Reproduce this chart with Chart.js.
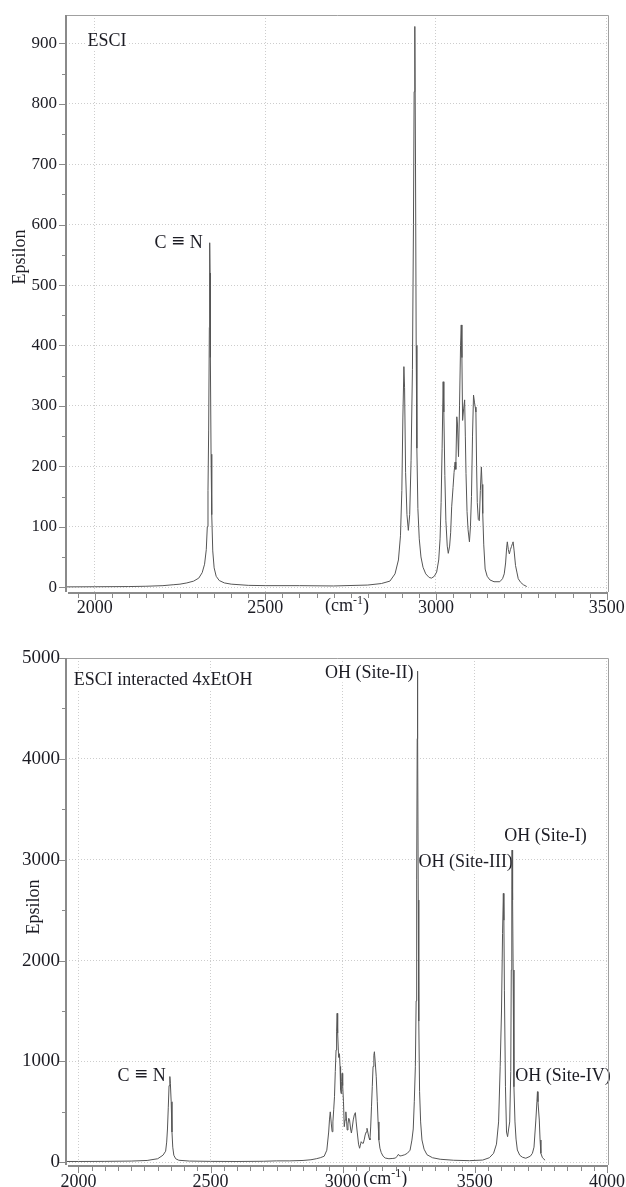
<!DOCTYPE html>
<html>
<head>
<meta charset="utf-8">
<script src="https://cdn.jsdelivr.net/npm/chart.js@4"></script>
<style>
  html, body { margin: 0; padding: 0; background: #fff; }
  canvas { display: block; }
</style>
</head>
<body>
<canvas id="esciChart" width="626" height="620"></canvas>
<canvas id="etohChart" width="626" height="567"></canvas>
<script>
// --- ESCI alone (top panel) ---
const esciWavenumber = [
  1916, 2000, 2100, 2150, 2200, 2230, 2250, 2270, 2290, 2305, 2315, 2322, 2327, 2330, 2332, 2334, 2336, 2337,
  2338, 2339, 2341, 2343, 2346, 2350, 2356, 2365, 2380, 2400, 2450, 2500, 2600, 2700, 2800, 2840, 2865, 2880,
  2890, 2896, 2900, 2903, 2906, 2908, 2911, 2915, 2919, 2923, 2927, 2931, 2934, 2936, 2938, 2940, 2942, 2944,
  2947, 2951, 2956, 2962, 2970, 2980, 2987, 2995, 3002, 3008, 3012, 3015, 3018, 3021, 3023, 3026, 3029, 3033,
  3036, 3040, 3043, 3046, 3050, 3053, 3056, 3058, 3061, 3063, 3066, 3069, 3072, 3074, 3076, 3078, 3081, 3084,
  3086, 3088, 3091, 3094, 3098, 3101, 3104, 3107, 3110, 3113, 3115, 3117, 3119, 3121, 3124, 3127, 3130, 3133,
  3135, 3137, 3140, 3144, 3150, 3158, 3170, 3187, 3195, 3200, 3204, 3207, 3209, 3212, 3215, 3218, 3221, 3224,
  3226, 3229, 3233, 3237, 3241, 3248, 3256, 3266
];
const esciEpsilon = [
  0.5, 0.7, 1, 1.5, 2.5, 4, 5, 7, 10, 15, 24, 38, 62, 100, 160, 260, 430, 570,
  520, 380, 220, 120, 60, 32, 18, 11, 7, 5, 3, 2.5, 2.5, 2, 3.5, 6, 10, 22,
  45, 85, 160, 280, 365, 330, 190, 120, 94, 120, 210, 360, 600, 820, 928, 700, 400, 230,
  130, 80, 50, 33, 22, 16, 15, 18, 25, 45, 80, 140, 230, 340, 290, 185, 110, 68,
  56, 68, 90, 133, 165, 190, 207, 195, 282, 270, 216, 300, 400, 434, 380, 276, 295, 310,
  250, 188, 125, 95, 75, 100, 150, 250, 318, 305, 298, 290, 200, 140, 112, 110, 160, 199,
  170, 122, 70, 30, 18, 12, 9, 9, 14, 22, 40, 65, 75, 62, 55, 62, 67, 72,
  75, 60, 36, 25, 14, 8, 4, 1
];
const esciTicksX = [2000, 2500, 3000, 3500];
const esciTicksY = [0, 100, 200, 300, 400, 500, 600, 700, 800, 900];
const esciNoteText = ['ESCI', 'C \u2261 N'];
const esciNoteX = [1979, 2317];
const esciNoteY = [904, 570];
const esciNoteAlign = ['left', 'right'];

// --- ESCI interacted with 4 EtOH (bottom panel) ---
const etohWavenumber = [
  1953, 2000, 2100, 2200, 2260, 2300, 2320, 2330, 2334, 2337, 2340, 2343, 2346, 2348, 2351, 2354, 2357, 2361,
  2368, 2380, 2420, 2500, 2600, 2700, 2750, 2800, 2850, 2880, 2900, 2915, 2930, 2940, 2947, 2950, 2953, 2957,
  2960, 2963, 2966, 2969, 2972, 2975, 2977, 2979, 2981, 2984, 2986, 2988, 2990, 2992, 2994, 2996, 2998, 3000,
  3003, 3006, 3009, 3012, 3015, 3017, 3020, 3023, 3026, 3030, 3033, 3036, 3040, 3044, 3048, 3051, 3055, 3060,
  3064, 3067, 3070, 3074, 3078, 3082, 3085, 3089, 3092, 3095, 3098, 3100, 3103, 3106, 3109, 3112, 3115, 3118,
  3120, 3123, 3127, 3131, 3134, 3137, 3141, 3146, 3153, 3161, 3175, 3190, 3200, 3206, 3211, 3216, 3224, 3235,
  3245, 3255, 3262, 3267, 3271, 3275, 3278, 3280, 3282, 3283, 3284, 3286, 3288, 3291, 3295, 3300, 3308, 3319,
  3340, 3369, 3420, 3480, 3530, 3555, 3571, 3582, 3590, 3596, 3601, 3605, 3608, 3610, 3612, 3616, 3620, 3624,
  3628, 3632, 3636, 3638, 3640, 3641, 3643, 3645, 3648, 3652, 3656, 3661, 3670, 3680, 3693, 3710, 3718, 3724,
  3731, 3735, 3737, 3739, 3744, 3747, 3750, 3756, 3766
];
const etohEpsilon = [
  8, 8, 9, 12, 18, 35, 70, 110, 200, 330, 540, 760, 850, 780, 600, 300, 150, 70,
  35, 20, 12, 9, 8, 10, 14, 14, 18, 25, 35, 45, 60, 120, 300, 420, 500, 380,
  303, 400, 520, 650, 900, 1113, 1300, 1477, 1280, 1080, 1040, 1070, 950, 720, 681, 800, 882, 760,
  600, 353, 420, 500, 400, 320, 380, 436, 420, 330, 290, 340, 420, 470, 492, 400, 300, 180,
  139, 170, 204, 190, 188, 230, 270, 300, 337, 300, 260, 240, 221, 350, 550, 750, 950, 1060,
  1096, 1000, 848, 600, 400, 220, 140, 95, 60, 42, 35, 38, 42, 60, 79, 62, 66, 75,
  90, 120, 220, 330, 600, 947, 1600, 2800, 4200, 4870, 4300, 2600, 1400, 700, 400, 221, 130, 75,
  45, 30, 20, 16, 22, 45, 89, 180, 400, 947, 1500, 2270, 2666, 2400, 1700, 749, 300, 254,
  330, 400, 900, 1906, 2700, 3095, 2600, 1906, 749, 400, 230, 122, 70, 50, 40, 60, 89, 150,
  419, 600, 700, 600, 419, 221, 89, 45, 20
];
const etohTicksX = [2000, 2500, 3000, 3500, 4000];
const etohTicksY = [0, 1000, 2000, 3000, 4000, 5000];
const etohNoteText = ['ESCI interacted 4xEtOH', 'OH (Site-II)', 'OH (Site-III)', 'OH (Site-I)', 'OH (Site-IV)', 'C \u2261 N'];
const etohNoteX = [1982, 3268, 3644, 3611, 3653, 2330];
const etohNoteY = [4782, 4848, 2970, 3235, 849, 856];
const etohNoteAlign = ['left', 'right', 'right', 'left', 'left', 'right'];

const SERIF = "'Liberation Serif', 'Times New Roman', serif";
const INK = '#1c1c24';
const TRIPLE = '\u2261';

// split a note so the triple-bond sign can use a font where it is drawn full size
function noteParts(ctx, t) {
  return t.split(/(\u2261)/).filter(s => s.length).map(s => {
    const font = s === TRIPLE ? "17px 'DejaVu Sans'" : `18px ${SERIF}`;
    ctx.font = font;
    return { s, font, w: ctx.measureText(s).width };
  });
}

// text notes with a white box behind them, drawn under the spectrum
const notesPlugin = {
  id: 'notes',
  beforeDatasetsDraw(chart, args, opts) {
    const { ctx, scales: { x, y } } = chart;
    ctx.save();
    ctx.textBaseline = 'middle';
    ctx.textAlign = 'left';
    opts.text.forEach((t, i) => {
      const px = x.getPixelForValue(opts.x[i]);
      const py = y.getPixelForValue(opts.y[i]);
      const parts = noteParts(ctx, t);
      const w = parts.reduce((acc, p) => acc + p.w, 0);
      let left = opts.align[i] === 'left' ? px : px - w;
      ctx.fillStyle = '#fff';
      ctx.fillRect(left - 1, py - 9, w + 2, 18);
      ctx.fillStyle = INK;
      parts.forEach(p => {
        ctx.font = p.font;
        ctx.fillText(p.s, left, p.s === TRIPLE ? py - 1 : py);
        left += p.w;
      });
    });
    ctx.restore();
  }
};

// axis lines, frame, tick marks, axis titles
const framePlugin = {
  id: 'frame',
  afterDraw(chart, args, opts) {
    const { ctx, chartArea: a, scales: { x, y } } = chart;
    ctx.save();
    ctx.strokeStyle = '#a0a0a0';
    ctx.lineWidth = 1;
    ctx.beginPath();
    ctx.moveTo(a.left, a.top + 0.5);
    ctx.lineTo(a.right + 0.5, a.top + 0.5);
    ctx.lineTo(a.right + 0.5, a.bottom);
    ctx.stroke();

    ctx.strokeStyle = '#8a8a8a';
    ctx.lineWidth = 2;
    ctx.beginPath();
    ctx.moveTo(a.left, a.top);
    ctx.lineTo(a.left, a.bottom);
    ctx.moveTo(a.left + 2, a.bottom + 1);
    ctx.lineTo(a.right, a.bottom + 1);
    ctx.stroke();

    ctx.lineWidth = 1;
    ctx.beginPath();
    for (let v = Math.ceil(y.min / opts.yMinor) * opts.yMinor; v <= y.max; v += opts.yMinor) {
      if (v < 0) continue;
      const py = Math.round(y.getPixelForValue(v)) + 0.5;
      const len = v % opts.yMajor === 0 ? 6 : 3;
      ctx.moveTo(a.left - 1 - len, py);
      ctx.lineTo(a.left - 1, py);
    }
    for (let v = Math.ceil(x.min / opts.xMinor) * opts.xMinor; v <= x.max; v += opts.xMinor) {
      const px = Math.round(x.getPixelForValue(v)) + 0.5;
      const len = v % opts.xMajor === 0 ? 6 : 4;
      ctx.moveTo(px, a.bottom + 2);
      ctx.lineTo(px, a.bottom + 2 + len);
    }
    ctx.stroke();

    // y title
    ctx.fillStyle = INK;
    ctx.font = `18px ${SERIF}`;
    ctx.textAlign = 'center';
    ctx.textBaseline = 'middle';
    ctx.save();
    ctx.translate(opts.titleX, opts.titleY);
    ctx.rotate(-Math.PI / 2);
    ctx.fillText('Epsilon', 0, 0);
    ctx.restore();

    // x unit "(cm-1)"
    const ux = x.getPixelForValue(opts.unitX);
    const uy = opts.unitY;
    ctx.textAlign = 'left';
    ctx.textBaseline = 'alphabetic';
    ctx.font = `18px ${SERIF}`;
    ctx.fillText('(cm', ux, uy);
    let w = ctx.measureText('(cm').width;
    ctx.font = `12px ${SERIF}`;
    ctx.fillText('-1', ux + w, uy - 7);
    w += ctx.measureText('-1').width;
    ctx.font = `18px ${SERIF}`;
    ctx.fillText(')', ux + w, uy);
    ctx.restore();
  }
};

function makeSpectrum(id, p) {
  const points = p.wavenumber.map((w, i) => ({ x: w, y: p.epsilon[i] }));
  return new Chart(document.getElementById(id), {
    type: 'line',
    data: {
      datasets: [{
        data: points,
        borderColor: '#555',
        borderWidth: 1,
        pointRadius: 0,
        tension: 0,
        fill: false
      }]
    },
    options: {
      responsive: false,
      animation: false,
      layout: { padding: { left: 0, right: 18, top: p.padTop, bottom: 0 } },
      plugins: {
        legend: { display: false },
        tooltip: { enabled: false },
        notes: { text: p.noteText, x: p.noteX, y: p.noteY, align: p.noteAlign },
        frame: p.frame
      },
      scales: {
        x: {
          type: 'linear',
          min: p.xMin,
          max: p.xMax,
          afterBuildTicks: s => { s.ticks = p.ticksX.map(v => ({ value: v })); },
          afterFit: s => {
            s.height = p.xAxisHeight;
            s.paddingLeft = 0;
            s.paddingRight = 0;
          },
          grid: { color: '#cdcdcd', drawTicks: false },
          border: { display: false, dash: [1, 2] },
          ticks: {
            padding: p.xPad, color: INK, maxRotation: 0, autoSkip: false,
            font: { family: SERIF, size: 18 },
            callback: v => String(v)
          }
        },
        y: {
          type: 'linear',
          min: p.yMin,
          max: p.yMax,
          afterBuildTicks: s => { s.ticks = p.ticksY.map(v => ({ value: v })); },
          afterFit: s => {
            s.width = 66;
            s.paddingTop = 0;
            s.paddingBottom = 0;
          },
          grid: { color: '#cdcdcd', drawTicks: false },
          border: { display: false, dash: [1, 2] },
          ticks: {
            padding: p.yPad, color: INK, autoSkip: false,
            font: { family: SERIF, size: p.yFont },
            callback: v => String(v)
          }
        }
      }
    },
    plugins: [notesPlugin, framePlugin]
  });
}

makeSpectrum('esciChart', {
  wavenumber: esciWavenumber, epsilon: esciEpsilon,
  ticksX: esciTicksX, ticksY: esciTicksY,
  noteText: esciNoteText, noteX: esciNoteX, noteY: esciNoteY, noteAlign: esciNoteAlign,
  xMin: 1916, xMax: 3504, yMin: -8, yMax: 947,
  padTop: 15, xAxisHeight: 28, xPad: 5, yPad: 9, yFont: 17,
  frame: { xMinor: 50, xMajor: 500, yMinor: 50, yMajor: 100, titleX: 20, titleY: 257, unitX: 2675, unitY: 611 }
});

makeSpectrum('etohChart', {
  wavenumber: etohWavenumber, epsilon: etohEpsilon,
  ticksX: etohTicksX, ticksY: etohTicksY,
  noteText: etohNoteText, noteX: etohNoteX, noteY: etohNoteY, noteAlign: etohNoteAlign,
  xMin: 1953, xMax: 4004, yMin: -27, yMax: 5000,
  padTop: 38, xAxisHeight: 22, xPad: 6, yPad: 6, yFont: 19,
  frame: { xMinor: 50, xMajor: 500, yMinor: 500, yMajor: 1000, titleX: 34, titleY: 287, unitX: 3078, unitY: 564 }
});
</script>
</body>
</html>
